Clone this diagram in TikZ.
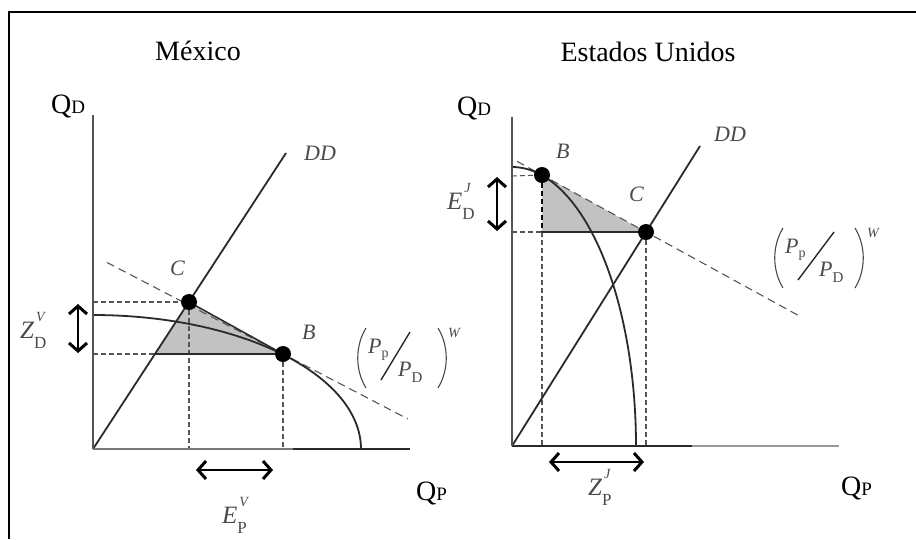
\documentclass[tikz,border=0pt]{standalone}
\usepackage{fontspec}
\setmainfont{Liberation Serif}
\usetikzlibrary{arrows.meta}
\definecolor{lab}{HTML}{4A4A4A}
\definecolor{ln}{HTML}{2A2A2A}
\definecolor{ax}{HTML}{555555}
\definecolor{shadegray}{HTML}{C2C2C2}
\newcommand\mysupsub[3]{#1\rlap{\raisebox{0.68em}{\kern0.08em\fontsize{14}{14}\selectfont\itshape #2}}\raisebox{-0.42em}{\fontsize{17}{17}\selectfont\upshape #3}}
\begin{document}
\begin{tikzpicture}[x=1pt,y=-1pt,
  axisline/.style={draw=ax, line width=1.3pt},
  curve/.style={draw=ln, line width=1.8pt},
  guide/.style={draw=ax, line width=1.1pt, dash pattern=on 5pt off 3pt},
  priceline/.style={draw=ax, line width=1.1pt, dash pattern=on 8pt off 5pt},
  dot/.style={circle, fill=black, inner sep=0pt, minimum size=16pt},
  lbl/.style={text=lab, font=\fontsize{22}{24}\selectfont\itshape, inner sep=0pt, anchor=base west},
  sublbl/.style={text=lab, font=\fontsize{25}{27}\selectfont\itshape, inner sep=0pt, anchor=base west},
  titlelbl/.style={font=\fontsize{28}{30}\selectfont, inner sep=0pt, anchor=base},
  qlbl/.style={font=\fontsize{28}{30}\selectfont, inner sep=0pt, anchor=base west},
  paren/.style={draw=lab, line width=1.1pt},
  dbl/.style={draw=black, line width=2pt, {Straight Barb[length=8pt,width=18pt,line width=3pt]}-{Straight Barb[length=8pt,width=18pt,line width=3pt]}}
]
\useasboundingbox (0,0) rectangle (916,539);
% frame
\coordinate (f1) at (9.2,539);
\coordinate (f2) at (9.2,12.2);
\coordinate (f3) at (916,12.2);
\draw[line width=2.4pt] (f1) -- (f2) -- (f3);

%================ Mexico =================
\coordinate (O1) at (93,449);
\coordinate (Y1) at (93,115);
\coordinate (X1m) at (293,449);
\coordinate (X1) at (410,449);
\coordinate (DD1) at (286,153);
\coordinate (C1) at (189,302);
\coordinate (B1) at (283,354);
\coordinate (T1) at (155,354);
\coordinate (L1s) at (107,262.5);
\coordinate (L1e) at (408,419);
\coordinate (C1y) at (93,302);
\coordinate (T1y) at (93,354);
\coordinate (C1x) at (189,449);
\coordinate (B1x) at (283,449);

\fill[shadegray] (C1) -- (B1) -- (T1) -- cycle;
\draw[guide] (C1y) -- (C1);
\draw[guide] (T1y) -- (T1);
\draw[guide] (C1) -- (C1x);
\draw[guide] (B1) -- (B1x);
\draw[priceline] (L1s) -- (L1e);
\draw[curve] plot[domain=0:90, samples=90] ({93+268*cos(\x)},{449-134*sin(\x)});
\draw[curve] (O1) -- (DD1);
\draw[curve, line width=1.5pt] (C1) -- (B1);
\draw[curve, line width=1.5pt] (T1) -- (B1);
\draw[axisline, draw=ax!80] (O1) -- (X1m);
\draw[axisline, draw=ln] (X1m) -- (X1);
\draw[axisline] (O1) -- (Y1);
\node[dot] (nC1) at (C1) {};
\node[dot] (nB1) at (B1) {};

\coordinate (za) at (78,304);
\coordinate (zb) at (78,353);
\draw[dbl] (za) -- (zb);
\coordinate (ea) at (196,470);
\coordinate (eb) at (273,470);
\draw[dbl] (ea) -- (eb);

\node[titlelbl] (tMex) at (198,60) {México};
\node[qlbl] (qd1) at (51,113) {Q{\fontsize{19}{19}\selectfont D}};
\node[qlbl] (qp1) at (416,500) {Q{\fontsize{19}{19}\selectfont P}};
\node[lbl] (dd1) at (304,160) {DD};
\node[lbl] (lc1) at (170,275) {C};
\node[lbl] (lb1) at (302,339) {B};
\node[sublbl] (zv) at (20,338) {\mysupsub{Z}{V}{D}};
\node[sublbl] (ev) at (222,523) {\mysupsub{E}{V}{P}};

% price ratio label (Mexico)
\begin{scope}[shift={(358,328)}]
  \coordinate (pl1a) at (8,0);  \coordinate (pl1b) at (8,60);
  \coordinate (pr1a) at (80,0); \coordinate (pr1b) at (80,60);
  \coordinate (sl1a) at (23,52); \coordinate (sl1b) at (52,4);
  \draw[paren] (pl1a) .. controls (-3,18) and (-3,42) .. (pl1b);
  \draw[paren] (pr1a) .. controls (91,18) and (91,42) .. (pr1b);
  \draw[draw=ln, line width=1.4pt] (sl1a) -- (sl1b);
  \node[lbl] (pp1) at (10,25) {P\raisebox{-0.22em}{\fontsize{14}{14}\selectfont\upshape p}};
  \node[lbl] (pd1) at (40,48) {P\raisebox{-0.3em}{\fontsize{15}{15}\selectfont\upshape D}};
  \node[lbl, font=\fontsize{14}{14}\selectfont\itshape] (w1) at (90,9) {W};
\end{scope}

%================ Estados Unidos =================
\coordinate (O2) at (512,446);
\coordinate (Y2) at (512,117);
\coordinate (X2m) at (692,446);
\coordinate (X2) at (839,446);
\coordinate (DD2) at (700,146);
\coordinate (B2) at (542,175);
\coordinate (C2) at (646,232);
\coordinate (T2) at (542,232);
\coordinate (L2s) at (517,161.3);
\coordinate (L2e) at (799,315.8);
\coordinate (B2y) at (512,176);
\coordinate (T2y) at (512,232);
\coordinate (T2x) at (542,446);
\coordinate (C2x) at (646,446);

\fill[shadegray] (B2) -- (C2) -- (T2) -- cycle;
\draw[guide] (B2y) -- (B2);
\draw[guide] (T2y) -- (T2);
\draw[guide, draw=black, line width=1.4pt] (B2) -- (T2);
\draw[guide] (T2) -- (T2x);
\draw[guide] (C2) -- (C2x);
\draw[priceline] (L2s) -- (L2e);
\draw[curve] plot[domain=0:90, samples=90] ({512+124*cos(\x)},{446-279*sin(\x)});
\draw[curve] (O2) -- (DD2);
\draw[curve, line width=1.5pt] (T2) -- (C2);
\draw[axisline, draw=ln] (O2) -- (X2m);
\draw[axisline, draw=ax!60] (X2m) -- (X2);
\draw[axisline] (O2) -- (Y2);
\node[dot] (nB2) at (B2) {};
\node[dot] (nC2) at (C2) {};

\coordinate (ja) at (497,177);
\coordinate (jb) at (497,231);
\draw[dbl] (ja) -- (jb);
\coordinate (ka) at (549,462);
\coordinate (kb) at (644,462);
\draw[dbl] (ka) -- (kb);

\node[titlelbl] (tUS) at (648,61) {Estados Unidos};
\node[qlbl] (qd2) at (457,115) {Q{\fontsize{19}{19}\selectfont D}};
\node[qlbl] (qp2) at (841,495) {Q{\fontsize{19}{19}\selectfont P}};
\node[lbl] (dd2) at (714,141) {DD};
\node[lbl] (lb2) at (556,158) {B};
\node[lbl] (lc2) at (629,201) {C};
\node[sublbl] (ej) at (447,209) {\mysupsub{E}{J}{D}};
\node[sublbl] (zj) at (588,495) {\mysupsub{Z}{J}{P}};

% price ratio label (US)
\begin{scope}[shift={(775,228)}]
  \coordinate (pl2a) at (8,0);  \coordinate (pl2b) at (8,60);
  \coordinate (pr2a) at (80,0); \coordinate (pr2b) at (80,60);
  \coordinate (sl2a) at (23,52); \coordinate (sl2b) at (59,4);
  \draw[paren] (pl2a) .. controls (-3,18) and (-3,42) .. (pl2b);
  \draw[paren] (pr2a) .. controls (91,18) and (91,42) .. (pr2b);
  \draw[draw=ln, line width=1.4pt] (sl2a) -- (sl2b);
  \node[lbl] (pp2) at (10,25) {P\raisebox{-0.22em}{\fontsize{14}{14}\selectfont\upshape p}};
  \node[lbl] (pd2) at (44,48) {P\raisebox{-0.3em}{\fontsize{15}{15}\selectfont\upshape D}};
  \node[lbl, font=\fontsize{14}{14}\selectfont\itshape] (w2) at (92,9) {W};
\end{scope}
\end{tikzpicture}
\end{document}
